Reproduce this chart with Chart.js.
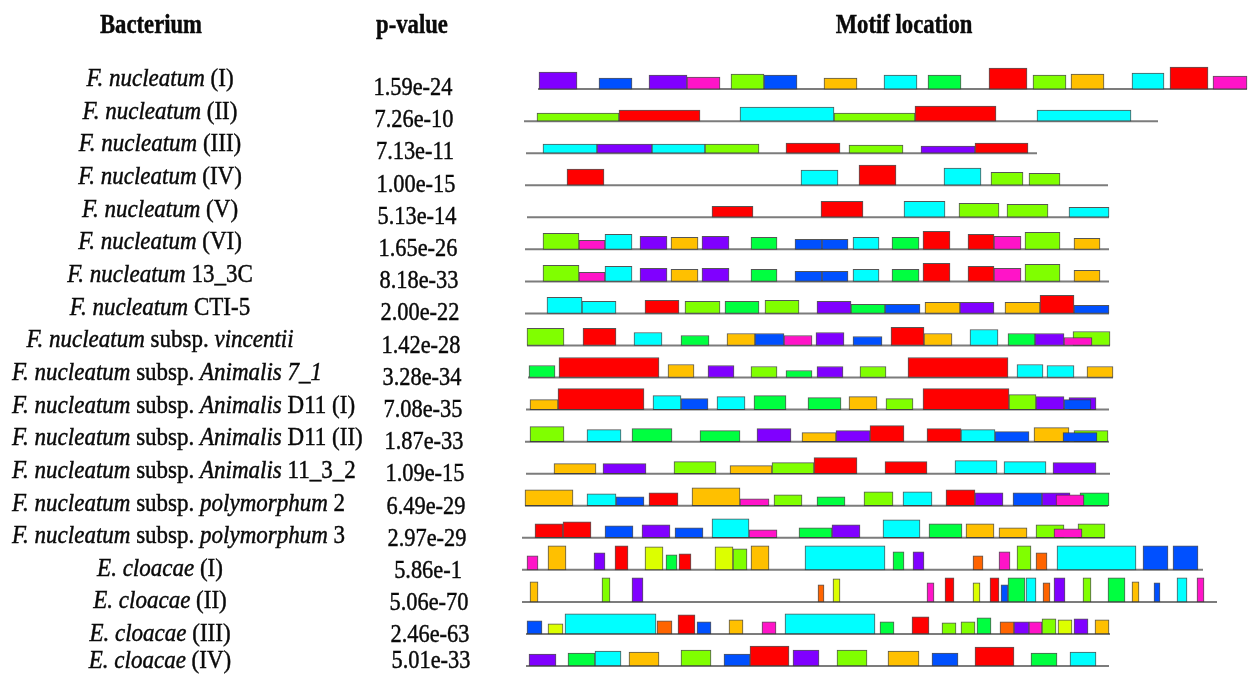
<!DOCTYPE html>
<html><head><meta charset="utf-8">
<script src="https://cdn.jsdelivr.net/npm/chart.js@4.4.1/dist/chart.umd.min.js"></script>
<style>html,body{margin:0;padding:0;background:#fff}#wrap{width:1248px;height:675px;position:relative}</style>
</head><body><div id="wrap"><canvas id="c"></canvas></div>
<script>
// ---------- DATA ----------
const bacteria = [
  '*F. nucleatum* (I)', '*F. nucleatum* (II)', '*F. nucleatum* (III)', '*F. nucleatum* (IV)',
  '*F. nucleatum* (V)', '*F. nucleatum* (VI)', '*F. nucleatum* 13_3C', '*F. nucleatum* CTI-5',
  '*F. nucleatum* subsp. *vincentii*', '*F. nucleatum* subsp. *Animalis 7_1*',
  '*F. nucleatum* subsp. *Animalis* D11 (I)', '*F. nucleatum* subsp. *Animalis* D11 (II)',
  '*F. nucleatum* subsp. *Animalis* 11_3_2', '*F. nucleatum* subsp. *polymorphum* 2',
  '*F. nucleatum* subsp. *polymorphum* 3', '*E. cloacae* (I)', '*E. cloacae* (II)',
  '*E. cloacae* (III)', '*E. cloacae* (IV)'
];
const pValues = ['1.59e-24','7.26e-10','7.13e-11','1.00e-15','5.13e-14','1.65e-26','8.18e-33',
  '2.00e-22','1.42e-28','3.28e-34','7.08e-35','1.87e-33','1.09e-15','6.49e-29','2.97e-29',
  '5.86e-1','5.06e-70','2.46e-63','5.01e-33'];
const headers = ['Bacterium', 'p-value', 'Motif location'];

// sequence extent per bacterium (start, end)
const sequenceSpan = [[18,727],[4,638],[6,517],[5,588],[7,589],[5,589],[5,589],[5,589],[7,590],
  [8,593],[6,589],[5,589],[6,590],[5,588],[2,585],[2,683],[2,697],[6,590],[6,589]];

// motif key -> colour
const motifColors = {P:'#8000ff', B:'#0050ff', K:'#ff14c8', L:'#80ff00', G:'#00ff40',
  O:'#ffc000', C:'#00ffff', R:'#ff0000', Y:'#dcff00', D:'#ff6400'};

// motif occurrences: [start, end, motif, score]
const motifs01 = [[19,57,'P',17],[79,112,'B',11],[129,167,'P',14],[167,200,'K',12],[211,244,'L',15],[244,277,'B',14],[304,337,'O',11],[364,397,'C',14],[408,441,'G',14],[469,507,'R',21],[513,546,'L',14],[551,584,'O',15],[612,644,'C',16],[650,688,'R',22],[693,727,'K',13]];
const motifs02 = [[17,99,'L',8],[99,180,'R',11],[220,314,'C',14],[314,395,'L',8],[395,476,'R',15],[517,611,'C',11]];
const motifs03 = [[23,77,'C',9],[77,132,'P',9],[132,185,'C',9],[185,239,'L',9],[266,320,'R',10],[329,383,'L',8],[401,455,'P',7],[455,508,'R',10]];
const motifs04 = [[47,84,'R',16],[281,318,'C',15],[339,376,'R',20],[424,461,'C',17],[471,503,'L',13],[509,540,'L',12]];
const motifs05 = [[192,233,'R',11],[301,343,'R',16],[384,425,'C',16],[439,479,'L',14],[487,528,'L',13],[549,589,'C',10]];
const motifs06 = [[23,59,'L',16],[59,85,'K',9],[85,112,'C',15],[120,147,'P',13],[151,178,'O',12],[182,209,'P',13],[231,257,'G',12],[275,302,'B',10],[302,328,'B',10],[333,359,'C',12],[372,399,'G',12],[403,430,'R',18],[448,474,'R',15],[474,501,'K',13],[505,540,'L',17],[554,580,'O',11]];
const motifs07 = [[23,59,'L',16],[59,85,'K',9],[85,112,'C',15],[120,147,'P',13],[151,178,'O',12],[182,209,'P',13],[231,257,'G',12],[275,302,'B',10],[302,328,'B',10],[333,359,'C',12],[372,399,'G',12],[403,430,'R',18],[448,474,'R',15],[474,501,'K',13],[505,540,'L',17],[554,580,'O',11]];
const motifs08 = [[27,62,'C',16],[62,96,'C',12],[125,159,'R',13],[165,200,'L',12],[205,239,'G',12],[245,279,'L',13],[297,331,'P',12],[331,365,'G',9],[365,400,'B',9],[405,440,'O',11],[440,474,'P',11],[485,520,'O',11],[520,554,'R',18],[554,589,'B',8]];
const motifs09 = [[7,44,'L',17],[63,96,'R',17],[114,142,'C',13],[161,189,'G',10],[207,235,'O',12],[235,264,'B',12],[264,292,'K',10],[296,324,'P',13],[333,362,'B',9],[371,404,'R',18],[404,432,'O',12],[450,478,'C',16],[488,515,'G',12],[515,544,'P',12],[553,590,'L',14],[544,572,'K',8]];
const motifs10 = [[9,35,'G',12],[39,139,'R',20],[148,174,'O',13],[188,214,'P',12],[231,257,'L',11],[266,292,'G',7],[297,323,'P',11],[340,366,'L',11],[388,488,'R',20],[497,523,'C',13],[527,554,'C',12],[567,593,'O',11]];
const motifs11 = [[10,38,'O',10],[38,124,'R',21],[133,161,'C',14],[161,188,'B',11],[197,225,'C',13],[234,266,'G',14],[288,321,'G',12],[329,357,'O',13],[366,393,'L',11],[403,489,'R',21],[489,516,'L',15],[516,544,'P',13],[549,576,'P',12],[544,571,'B',10]];
const motifs12 = [[10,44,'L',15],[67,101,'C',12],[112,152,'G',13],[180,220,'G',11],[237,271,'P',13],[282,316,'O',9],[316,350,'P',11],[350,384,'R',16],[407,441,'R',13],[441,475,'C',12],[475,509,'B',10],[514,549,'O',14],[554,588,'L',11],[543,577,'B',9]];
const motifs13 = [[34,76,'O',10],[83,126,'P',10],[154,196,'L',12],[210,252,'O',8],[252,294,'L',11],[294,337,'R',16],[365,407,'R',12],[435,477,'C',13],[484,526,'C',12],[533,576,'P',11]];
const motifs14 = [[5,53,'O',16],[67,96,'C',12],[96,124,'B',9],[129,158,'R',13],[172,220,'O',18],[220,249,'K',7],[254,282,'L',11],[297,325,'G',9],[344,373,'L',14],[383,412,'C',14],[426,455,'R',16],[455,483,'P',13],[493,522,'B',13],[522,550,'P',13],[560,589,'G',13],[536,564,'K',11]];
const motifs15 = [[15,43,'R',14],[43,71,'R',16],[85,113,'B',12],[122,150,'P',13],[155,183,'B',10],[192,229,'C',19],[229,257,'K',8],[279,312,'G',10],[312,340,'P',13],[363,400,'C',18],[409,442,'G',14],[446,474,'O',14],[479,507,'O',10],[516,544,'L',13],[558,585,'L',14],[534,562,'K',9]];
const motifs16 = [[7,18,'K',14],[28,46,'O',24],[74,85,'P',17],[95,108,'R',24],[125,143,'Y',23],[146,157,'G',15],[159,171,'R',16],[195,213,'Y',23],[213,227,'L',21],[231,249,'O',24],[285,365,'C',24],[373,384,'G',18],[393,404,'P',18],[453,463,'D',14],[479,490,'K',18],[497,511,'L',24],[516,527,'D',17],[537,616,'C',24],[623,648,'B',24],[653,678,'B',24]];
const motifs17 = [[10,18,'O',20],[82,90,'L',24],[112,123,'P',24],[298,304,'D',17],[313,320,'Y',23],[407,414,'K',19],[425,434,'R',24],[453,460,'Y',19],[470,479,'R',24],[481,488,'B',17],[488,505,'G',24],[506,516,'C',24],[523,530,'D',19],[534,545,'P',24],[563,571,'L',24],[588,605,'G',24],[612,619,'O',20],[634,640,'B',19],[657,667,'C',24],[677,684,'K',24]];
const motifs18 = [[7,22,'B',13],[28,43,'Y',10],[45,136,'C',20],[137,152,'D',13],[158,175,'R',19],[177,191,'B',12],[209,223,'O',14],[242,256,'K',12],[265,355,'C',20],[360,374,'G',12],[392,409,'R',17],[422,436,'L',11],[441,455,'L',12],[457,471,'G',16],[480,494,'D',12],[494,509,'P',12],[509,522,'K',12],[522,536,'L',15],[538,552,'Y',14],[554,568,'P',15],[575,589,'O',14]];
const motifs19 = [[9,36,'P',12],[48,75,'G',13],[75,101,'C',15],[109,139,'O',14],[161,191,'L',16],[204,230,'B',12],[230,269,'R',20],[273,299,'P',16],[317,347,'L',16],[368,399,'O',15],[412,438,'B',13],[455,494,'R',19],[511,537,'G',13],[550,576,'C',14]];

const motifRows = [motifs01,motifs02,motifs03,motifs04,motifs05,motifs06,motifs07,motifs08,motifs09,
  motifs10,motifs11,motifs12,motifs13,motifs14,motifs15,motifs16,motifs17,motifs18,motifs19];

// ---------- LAYOUT ----------
const ROW = 32;                 // y units between tracks
const PAD = {left:520, right:0, top:41, bottom:1};
const Y_MIN = -48, Y_MAX = 18*ROW + 8;
const X_MIN = 0, X_MAX = 728;
const PXU = (675 - PAD.top - PAD.bottom) / (Y_MAX - Y_MIN);  // pixels per y unit

const datasets = [];
sequenceSpan.forEach(([s, e], r) => {
  datasets.push({type:'line', data:[{x:s, y:r*ROW}, {x:e, y:r*ROW}],
    borderColor:'#7c7c7c', borderWidth:2, pointRadius:0, fill:false, order:1});
});
let k = 0;
motifRows.forEach((row, r) => row.forEach(([s, e, m, h]) => {
  datasets.push({type:'bar', data:[{x:[s, e], y:r*ROW - h/2}],
    backgroundColor:motifColors[m], borderColor:'rgba(55,55,55,0.85)', borderWidth:1,
    borderSkipped:false, barThickness:h*PXU, grouped:false, order:-(k++)});
}));

const INK = '#0a0a0a';
function put(ctx, t, x) { ctx.fillText(t, x, 0); ctx.strokeText(t, x, 0); }
function drawRich(ctx, text, cx, y, size, sx, minLeft) {
  const parts = text.split('*').map((t, i) => ({t, it: i % 2 === 1})).filter(p => p.t.length);
  let w = 0;
  parts.forEach(p => { ctx.font = (p.it ? 'italic ' : '') + size + 'px "Liberation Serif"'; p.w = ctx.measureText(p.t).width; w += p.w; });
  const W = w * sx;
  let left = Math.max(cx - W/2, minLeft);
  ctx.save(); ctx.translate(left, y); ctx.scale(sx, 1);
  let x = 0;
  parts.forEach(p => { ctx.font = (p.it ? 'italic ' : '') + size + 'px "Liberation Serif"'; put(ctx, p.t, x); x += p.w; });
  ctx.restore();
}
function drawScaled(ctx, text, cx, y, font, sx) {
  ctx.save(); ctx.font = font; const w = ctx.measureText(text).width;
  ctx.translate(cx - w*sx/2, y); ctx.scale(sx, 1); put(ctx, text, 0); ctx.restore();
}

const textPlugin = {
  id: 'sideText',
  afterDraw(chart) {
    const ctx = chart.ctx, ys = chart.scales.y;
    ctx.save();
    ctx.fillStyle = INK; ctx.strokeStyle = INK; ctx.lineWidth = 0.45;
    ctx.textBaseline = 'alphabetic'; ctx.textAlign = 'left';
    drawScaled(ctx, headers[0], 151, 33, 'bold 27px "Liberation Serif"', 0.84);
    drawScaled(ctx, headers[1], 412, 33, 'bold 27px "Liberation Serif"', 0.84);
    drawScaled(ctx, headers[2], 904, 33, 'bold 27px "Liberation Serif"', 0.84);
    bacteria.forEach((name, r) => {
      const base = ys.getPixelForValue(r*ROW);
      drawRich(ctx, name, 160, Math.min(base - 3 + 0.6*r, 668), 25, 0.92, 12);
    });
    pValues.forEach((pv, r) => {
      const base = ys.getPixelForValue(r*ROW);
      drawScaled(ctx, pv, 413 + r, Math.min(base + 6 + 0.15*r, 668), '26px "Liberation Serif"', 0.86);
    });
    ctx.restore();
  }
};

new Chart(document.getElementById('c'), {
  type: 'bar',
  data: { datasets },
  options: {
    indexAxis: 'y', responsive: true, maintainAspectRatio: false, animation: false,
    layout: { padding: PAD },
    plugins: { legend: {display:false}, tooltip: {enabled:false} },
    scales: {
      x: { type:'linear', min:X_MIN, max:X_MAX, display:false, offset:false },
      y: { type:'linear', min:Y_MIN, max:Y_MAX, reverse:true, display:false, offset:false }
    }
  },
  plugins: [textPlugin]
});
</script></body></html>
